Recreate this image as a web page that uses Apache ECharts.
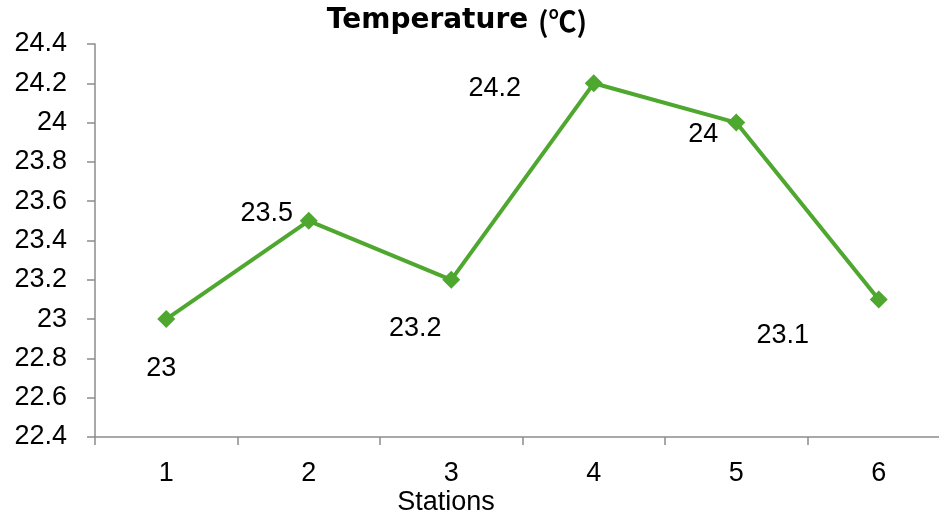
<!DOCTYPE html>
<html>
<head>
<meta charset="utf-8">
<title>Temperature (℃)</title>
<script src="https://cdn.jsdelivr.net/npm/echarts@6/dist/echarts.min.js"></script>
<style>
  html, body { margin: 0; padding: 0; background: #ffffff; }
  #chart { width: 939px; height: 515px; }
</style>
</head>
<body>
<div id="chart"></div>
<script>
// Station numbers along the x axis
const stations = ['1', '2', '3', '4', '5', '6'];
// Measured temperature at each station (℃)
const temperatures = [23, 23.5, 23.2, 24.2, 24, 23.1];
// Value axis range and step
const yMin = 22.4;
const yMax = 24.4;
const yStep = 0.2;

// Where each value label sits relative to its point [dx, dy]
const labelShift = [[-5, 49], [-42, -7], [-36, 49], [-99, 5], [-33, 12], [-96, 36]];

const lineColor = '#4ea72e';
const axisColor = '#8c8c8c';
const textFont = '"Liberation Sans", Arial, sans-serif';

const seriesData = temperatures.map((v, i) => ({
  value: v,
  label: { offset: labelShift[i] }
}));

const chart = echarts.init(document.getElementById('chart'), null, { renderer: 'canvas' });

chart.setOption({
  animation: false,
  backgroundColor: '#ffffff',
  title: [
    {
      text: 'Temperature {u|(℃)}',
      left: 457,
      top: 21,
      textAlign: 'center',
      textVerticalAlign: 'middle',
      padding: 0,
      textStyle: {
        fontFamily: '"DejaVu Sans", sans-serif',
        fontWeight: 'bold',
        fontSize: 28,
        color: '#000000',
        rich: {
          u: {
            fontFamily: '"Noto Sans CJK SC", sans-serif',
            fontWeight: 'bold',
            fontSize: 28,
            color: '#000000'
          }
        }
      }
    },
    {
      text: 'Stations',
      left: 446,
      top: 503,
      textAlign: 'center',
      textVerticalAlign: 'middle',
      padding: 0,
      textStyle: {
        fontFamily: textFont,
        fontWeight: 'normal',
        fontSize: 27,
        color: '#000000'
      }
    }
  ],
  grid: {
    left: 95,
    top: 44,
    width: 855,
    bottom: 78,
    outerBoundsMode: 'none',
    containLabel: false
  },
  xAxis: {
    type: 'category',
    data: stations,
    boundaryGap: true,
    axisLine: { show: true, lineStyle: { color: axisColor, width: 1.5 } },
    axisTick: { show: true, alignWithLabel: false, length: 8, lineStyle: { color: axisColor, width: 1.5 } },
    axisLabel: {
      margin: 23,
      color: '#000000',
      fontSize: 27,
      fontFamily: textFont
    },
    splitLine: { show: false }
  },
  yAxis: {
    type: 'value',
    min: yMin,
    max: yMax,
    interval: yStep,
    axisLine: { show: true, lineStyle: { color: axisColor, width: 1.5 } },
    axisTick: { show: true, length: 8, lineStyle: { color: axisColor, width: 1.5 } },
    axisLabel: {
      margin: 28,
      color: '#000000',
      fontSize: 27,
      fontFamily: textFont,
      formatter: v => String(Math.round(v * 10) / 10)
    },
    splitLine: { show: false }
  },
  series: [
    {
      type: 'line',
      data: seriesData,
      symbol: 'diamond',
      symbolSize: 18,
      showAllSymbol: true,
      lineStyle: { color: lineColor, width: 4 },
      itemStyle: { color: lineColor },
      label: {
        show: true,
        position: 'inside',
        color: '#000000',
        fontSize: 27,
        fontFamily: textFont,
        formatter: p => String(p.value)
      },
      emphasis: { disabled: true }
    }
  ]
});
</script>
</body>
</html>
